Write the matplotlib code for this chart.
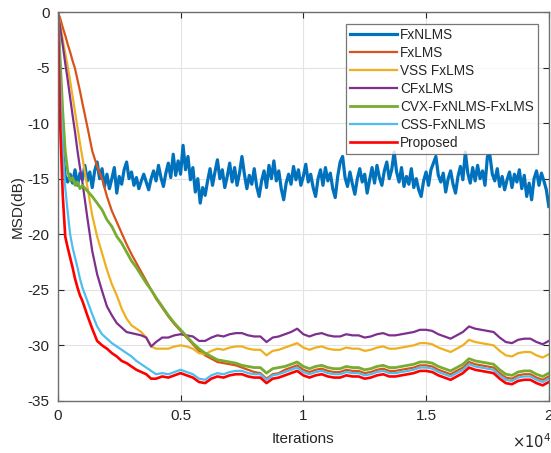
import matplotlib
matplotlib.use("Agg")
import matplotlib.pyplot as plt
from matplotlib.ticker import FixedLocator, FixedFormatter

plt.rcParams['font.family'] = ['Liberation Sans', 'DejaVu Sans']

# ---------------- data ----------------
x_blue = list(range(0, 20001, 100))
fxnlms = [0, -7.0, -12.6, -14.8, -15.3, -14.6, -15.4, -14.2, -15.6, -14.5,
          -15.1, -13.8, -15.2, -14.4, -15.8, -14.3, -13.5, -15.0, -14.1, -15.7,
          -14.6, -15.9, -15.0, -14.0, -16.3, -14.8, -15.5, -14.2, -13.5, -15.0,
          -14.4, -15.6, -14.9, -15.9, -15.2, -14.6, -15.3, -16.0, -15.0, -14.3,
          -15.2, -13.8, -14.9, -15.7, -14.5, -13.6, -14.9, -12.8, -14.7, -13.4,
          -14.6, -12.0, -14.2, -13.0, -15.1, -14.0, -16.2, -15.0, -17.2, -15.8,
          -16.5, -15.2, -14.1, -15.6, -14.4, -13.3, -15.0, -14.2, -15.8, -14.8,
          -13.6, -15.3, -14.0, -15.6, -14.5, -13.0, -14.6, -15.9, -14.7, -15.5,
          -14.1, -15.7, -16.6, -15.2, -14.3, -15.8, -13.8, -15.0, -13.4, -15.2,
          -14.3, -15.9, -16.9, -15.4, -14.6, -15.5, -13.9, -15.1, -14.2, -15.6,
          -14.8, -13.7, -15.3, -14.6, -15.8, -16.6, -15.0, -14.2, -15.6, -14.0,
          -15.2, -14.5, -15.9, -16.7, -14.8, -13.5, -13.0, -14.9, -15.7, -14.4,
          -15.5, -16.4, -15.0, -14.1, -15.3, -14.6, -16.3, -15.1, -14.0, -15.4,
          -13.8, -14.9, -15.6, -14.3, -13.5, -15.0, -14.2, -12.6, -14.4, -15.3,
          -14.0, -15.7, -14.8, -15.5, -14.1, -15.8, -15.0, -16.0, -16.6, -15.2,
          -14.4, -15.6, -14.2, -13.6, -13.0, -14.7, -15.3, -14.5, -16.2, -15.0,
          -14.3, -15.5, -16.3, -14.8, -13.9, -15.1, -12.6, -14.5, -15.4, -14.0,
          -15.2, -13.8, -15.0, -14.3, -15.6, -13.0, -12.9, -14.6, -15.2, -14.1,
          -15.7, -14.8, -16.0, -15.1, -14.4, -15.8, -14.6, -15.3, -14.2, -15.9,
          -14.7, -16.6, -15.4, -16.9, -15.0, -14.3, -15.6, -14.5, -15.2, -16.0,
          -17.5]

x_early = [0, 100, 200, 300, 400, 500, 600, 700, 800, 900, 1000,
           1200, 1400, 1600, 1800, 2000, 2200, 2400, 2600, 2800, 3000,
           3200, 3400, 3600, 3800]
x_late = list(range(4000, 20001, 250))
x_conv = x_early + x_late

fxlms = ([0, -0.6, -1.4, -2.1, -2.9, -3.6, -4.4, -5.1, -6.1, -7.1, -8.2,
          -10.3, -12.5, -13.9, -15.0, -16.6, -17.9, -18.9, -19.9, -20.9, -21.8,
          -22.6, -23.4, -24.2, -25.0] +
         [-25.8, -26.6, -27.4, -28.1, -28.7, -29.3, -29.9, -30.5, -30.9, -31.2,
          -31.5, -31.6, -31.7, -31.8, -32.0, -32.2, -32.4, -32.5, -33.0, -32.6,
          -32.5,
          -32.2, -32.0, -31.8, -32.2, -32.4, -32.2, -32.1, -32.3, -32.4, -32.4,
          -32.2, -32.3, -32.3, -32.5, -32.4, -32.2, -32.1, -32.3, -32.3, -32.2,
          -32.1, -32.0, -31.8, -31.8, -31.9, -32.2, -32.4, -32.6, -32.3, -32.0,
          -31.5, -31.7, -31.8, -31.9, -32.0, -32.5, -32.9, -33.0, -32.7, -32.6,
          -32.6, -32.9, -33.1, -32.8])

vss_fxlms = ([0, -1.2, -2.5, -3.7, -4.9, -6.2, -7.6, -9.0, -10.4, -11.8, -13.1,
              -15.7, -18.3, -20.2, -21.7, -23.2, -24.5, -25.5, -26.7, -27.6, -28.2,
              -28.5, -28.8, -29.3, -30.1] +
             [-30.3, -30.3, -30.3, -30.1, -30.0, -30.1, -30.3, -30.7, -30.8, -30.5,
              -30.3, -30.4, -30.2, -30.1, -30.1, -30.3, -30.4, -30.4, -30.9, -30.5,
              -30.4, -30.2, -30.0, -29.8, -30.2, -30.4, -30.2, -30.1, -30.3, -30.4,
              -30.4, -30.2, -30.3, -30.3, -30.5, -30.4, -30.2, -30.1, -30.3, -30.3,
              -30.2, -30.1, -30.0, -29.8, -29.8, -29.9, -30.2, -30.4, -30.6, -30.3,
              -30.0, -29.5, -29.7, -29.8, -29.9, -30.0, -30.5, -30.9, -31.0, -30.7,
              -30.6, -30.6, -30.9, -31.1, -30.8])

cfxlms = ([0, -1.5, -3.0, -4.6, -6.1, -7.7, -9.3, -10.8, -12.5, -14.0, -15.3,
           -18.5, -21.5, -23.6, -25.1, -26.5, -27.3, -28.0, -28.4, -28.8, -28.9,
           -29.0, -29.1, -29.3, -30.1] +
          [-29.7, -29.3, -29.3, -29.1, -29.0, -29.1, -29.2, -29.6, -29.6, -29.3,
           -29.1, -29.2, -29.0, -28.9, -28.9, -29.1, -29.2, -29.2, -29.7, -29.3,
           -29.2, -29.0, -28.8, -28.5, -29.0, -29.2, -29.0, -28.9, -29.1, -29.2,
           -29.2, -29.0, -29.1, -29.1, -29.3, -29.2, -29.0, -28.9, -29.1, -29.1,
           -29.0, -28.9, -28.8, -28.6, -28.6, -28.7, -29.0, -29.2, -29.4, -29.1,
           -28.8, -28.3, -28.5, -28.6, -28.7, -28.8, -29.3, -29.7, -29.8, -29.5,
           -29.4, -29.4, -29.7, -29.9, -29.6])

cvx = ([0, -4.5, -9.0, -12.5, -14.3, -15.2, -14.9, -15.6, -15.3, -15.9, -15.6,
        -16.1, -16.6, -17.2, -17.8, -18.7, -19.3, -20.2, -20.8, -21.6, -22.4,
        -23.0, -23.7, -24.4, -25.0] +
       [-25.7, -26.5, -27.3, -28.0, -28.6, -29.2, -29.8, -30.3, -30.7, -31.0,
        -31.3, -31.4, -31.5, -31.6, -31.8, -31.9, -32.0, -32.0, -32.5, -32.1,
        -32.0, -31.9, -31.7, -31.5, -31.9,
        -32.1, -31.9, -31.8, -32.0, -32.1, -32.1, -31.9, -32.0, -32.0, -32.2,
        -32.1, -31.9, -31.8, -32.0, -32.0, -31.9, -31.8, -31.7, -31.5, -31.5,
        -31.6, -31.9, -32.1, -32.3, -32.0, -31.7, -31.2, -31.4, -31.5, -31.6,
        -31.7, -32.2, -32.6, -32.7, -32.4, -32.3, -32.3, -32.6, -32.8, -32.5])

css_fxnlms = ([0, -6.5, -12.5, -15.8, -18.0, -20.0, -21.2, -22.1, -23.0, -24.0, -24.8,
               -26.0, -27.2, -28.3, -29.0, -29.4, -29.8, -30.1, -30.4, -30.7, -31.0,
               -31.4, -31.7, -32.0, -32.3] +
              [-32.6, -32.5, -32.6, -32.4, -32.2, -32.4, -32.6, -33.0, -33.1, -32.7,
               -32.5, -32.6, -32.4, -32.3, -32.3, -32.5, -32.6, -32.6, -33.1, -32.7,
               -32.6, -32.4, -32.2, -32.0, -32.4, -32.6, -32.4, -32.3, -32.5, -32.6,
               -32.6, -32.4, -32.5, -32.5, -32.7, -32.6, -32.4, -32.3, -32.5, -32.5,
               -32.4, -32.3, -32.2, -32.0, -32.0, -32.1, -32.4, -32.6, -32.8, -32.5,
               -32.2, -31.7, -31.9, -32.0, -32.1, -32.2, -32.7, -33.1, -33.2, -32.9,
               -32.8, -32.8, -33.1, -33.3, -33.0])

proposed = ([0, -10.5, -16.5, -20.2, -21.2, -22.1, -23.0, -24.0, -24.8, -25.5, -26.0,
             -27.3, -28.5, -29.6, -30.0, -30.3, -30.7, -31.0, -31.4, -31.6, -31.9,
             -32.2, -32.4, -32.6, -33.0] +
            [-33.0, -32.8, -32.9, -32.7, -32.5, -32.7, -32.9, -33.3, -33.4, -33.0,
             -32.8, -32.9, -32.7, -32.6, -32.6, -32.8, -32.9, -32.9, -33.4, -33.0,
             -32.9, -32.7, -32.5, -32.3, -32.7, -32.9, -32.7, -32.6, -32.8, -32.9,
             -32.9, -32.7, -32.8, -32.8, -33.0, -32.9, -32.7, -32.6, -32.8, -32.8,
             -32.7, -32.6, -32.5, -32.3, -32.3, -32.4, -32.7, -32.9, -33.1, -32.8,
             -32.5, -32.0, -32.2, -32.3, -32.4, -32.5, -33.0, -33.4, -33.5, -33.2,
             -33.1, -33.1, -33.4, -33.6, -33.3])

labels = ['FxNLMS', 'FxLMS', 'VSS FxLMS', 'CFxLMS', 'CVX-FxNLMS-FxLMS',
          'CSS-FxNLMS', 'Proposed']
colors = ['#0072BD', '#D95319', '#EDB120', '#7E2F8E', '#77AC30', '#4DBEEE', '#FF0000']

x_ticks = [0, 5000, 10000, 15000, 20000]
x_ticklabels = ['0', '0.5', '1', '1.5', '2']
y_ticks = [0, -5, -10, -15, -20, -25, -30, -35]
y_ticklabels = ['0', '-5', '-10', '-15', '-20', '-25', '-30', '-35']

# ---------------- plot ----------------
fig = plt.figure(figsize=(5.51, 4.53), dpi=100)
ax = fig.add_axes([0.105, 0.115, 0.891, 0.8585])

series = [(x_blue, fxnlms, 2.3), (x_conv, fxlms, 1.6), (x_conv, vss_fxlms, 1.6),
          (x_conv, cfxlms, 1.6), (x_conv, cvx, 2.0), (x_conv, css_fxnlms, 1.6),
          (x_conv, proposed, 1.9)]
for (xs, ys, lw), lab, c in zip(series, labels, colors):
    ax.plot(xs, ys, color=c, lw=lw, label=lab)

ax.set_xlim(0, 20000)
ax.set_ylim(-35, 0)
ax.xaxis.set_major_locator(FixedLocator(x_ticks))
ax.xaxis.set_major_formatter(FixedFormatter(x_ticklabels))
ax.yaxis.set_major_locator(FixedLocator(y_ticks))
ax.yaxis.set_major_formatter(FixedFormatter(y_ticklabels))

tc = '#262626'
ax.tick_params(direction='in', top=True, right=True, labelsize=11,
               colors=tc, length=4, width=0.8, pad=6)
for s in ax.spines.values():
    s.set_color('#6e6e6e')
    s.set_linewidth(1.0)
ax.grid(True, color='#e3e3e3', linewidth=0.8)
ax.set_axisbelow(True)

ax.set_xlabel('Iterations', fontsize=11, color=tc, labelpad=6)
ax.set_ylabel('MSD(dB)', fontsize=11, color=tc, labelpad=2)
ax.text(1.005, -0.122, r'$\times10^{4}$', transform=ax.transAxes, ha='right',
        va='baseline', fontsize=10.5, color=tc)

leg = ax.legend(loc='upper right', bbox_to_anchor=(0.978, 0.97), fontsize=9.8,
                frameon=True, fancybox=False, handlelength=3.4,
                handletextpad=0.25, labelspacing=0.3, borderpad=0.3,
                borderaxespad=0.0)
leg.get_frame().set_edgecolor('#555555')
leg.get_frame().set_linewidth(0.9)
for t in leg.get_texts():
    t.set_color(tc)

fig.savefig('out.png', dpi=100)
